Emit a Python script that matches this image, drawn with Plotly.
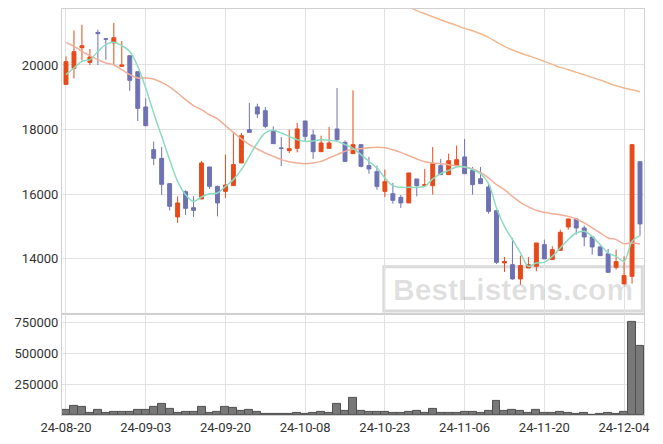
import plotly.graph_objects as go

dates = ["24-08-20","24-08-21","24-08-22","24-08-23","24-08-26","24-08-27","24-08-28","24-08-29","24-08-30",
         "24-09-02","24-09-03","24-09-04","24-09-05","24-09-06","24-09-09","24-09-10","24-09-11","24-09-12",
         "24-09-13","24-09-19","24-09-20","24-09-23","24-09-24","24-09-25","24-09-26","24-09-27","24-09-30",
         "24-10-02","24-10-04","24-10-07","24-10-08","24-10-10","24-10-11","24-10-14","24-10-15","24-10-16",
         "24-10-17","24-10-18","24-10-21","24-10-22","24-10-23","24-10-24","24-10-25","24-10-28","24-10-29",
         "24-10-30","24-10-31","24-11-01","24-11-04","24-11-05","24-11-06","24-11-07","24-11-08","24-11-11",
         "24-11-12","24-11-13","24-11-14","24-11-15","24-11-18","24-11-19","24-11-20","24-11-21","24-11-22",
         "24-11-25","24-11-26","24-11-27","24-11-28","24-11-29","24-12-02","24-12-03","24-12-04","24-12-05",
         "24-12-06"]

open_ = [19400,19895,20535,20080,21008,20810,20680,19957,20288,19793,18701,17380,17111,16329,15299,16081,15586,15855,
         16845,16245,16090,16267,16969,18000,18701,18587,17968,17433,17349,17421,18268,17835,17318,17421,18021,17606,
         17257,17535,16886,16700,16090,16019,15905,15732,16474,16267,16267,16886,16607,16886,17155,16740,16483,16226,
         15494,13876,13823,13381,13721,13771,14442,13979,14266,14989,15237,14958,14680,14371,14163,13741,13226,13462,
         17009]
high = [20266,21070,21246,20495,21092,20820,21300,20742,20288,19800,18967,17628,17464,16329,15936,16122,15936,17031,
        16845,16270,17226,17897,17897,18825,18803,18701,18101,17773,18000,18206,18268,18000,17813,18082,19289,17668,
        19214,17540,17155,16886,16763,16350,15979,16660,16474,16784,17464,17093,17257,17505,17711,16845,16845,16298,
        15494,14061,14649,14102,14061,14494,14597,14391,14906,15240,15240,15030,14690,14411,14308,14287,14080,17535,
        17009]
low = [19380,19586,20142,20000,20000,20164,20000,19950,19196,18268,18100,16907,15979,15503,15113,15361,15299,15855,
       16165,15317,15887,16260,16969,17915,18361,18039,17560,16877,17278,17297,17637,17093,17318,17421,17649,17010,
       17250,16833,16638,16143,15918,15710,15577,15732,15936,16260,15989,16600,16600,16880,16630,15989,16320,15400,
       13845,13598,13360,13205,13715,13616,14000,13979,14260,14906,14751,14390,14132,14100,13580,13669,13220,13236,
       14720]
close = [20102,20411,20597,20247,20968,20800,20844,20000,19524,18658,18123,17111,16307,15627,15732,15565,15503,16969,
         16245,15732,16288,16918,17813,17915,18485,18101,17566,17420,17411,18021,17792,17318,17587,17587,17690,17018,
         17535,16864,16784,16245,16391,15812,15732,16660,16267,16298,16947,16607,17040,17071,16638,16298,16329,15472,
         13894,13916,13381,13793,13823,14494,14000,14287,14823,15237,14958,14680,14371,14102,13585,13917,13484,17535,
         15082]

ma5 = [19700,19907,20111,20164,20420,20628,20700,20597,20420,19957,19289,18515,17792,17071,16400,15989,15781,15917,
       16019,16040,16245,16453,16763,17175,17587,17897,17977,17897,17792,17690,17637,17649,17690,17668,17637,17535,
       17420,17226,17018,16814,16505,16267,16215,16215,16215,16245,16474,16638,16740,16845,16845,16763,16638,16329,
       15577,15008,14597,14185,13771,13876,13894,14080,14340,14597,14803,14855,14700,14442,14185,14080,13926,14545,
       14720]
ma20 = [20700,20577,20420,20288,20164,20062,20009,19855,19700,19598,19598,19567,19462,19320,19134,18927,18741,18618,
        18460,18330,18123,17915,17711,17535,17401,17278,17175,17071,17009,16969,16947,16969,17018,17123,17226,17328,
        17390,17411,17442,17452,17442,17380,17297,17195,17093,17009,16969,16947,16917,16886,16845,16784,16678,16505,
        16298,16143,15936,15750,15608,15503,15441,15396,15370,15317,15237,15113,14958,14803,14649,14597,14473,14494,
        14463]
ma60_dates = dates[43:]
ma60 = [21800,21680,21587,21494,21401,21308,21225,21132,21061,20968,20854,20711,20575,20464,20371,20288,20204,20111,
        20019,19926,19855,19771,19700,19616,19536,19443,19360,19289,19236,19174]

volume = [40500,73000,65000,13500,40500,13500,21600,21600,21600,40500,40500,62000,89000,48600,13500,21600,21600,65000,
          13500,21600,65000,57000,32400,40500,21600,8000,8000,8000,8000,13500,8000,13500,21600,13500,89000,32400,
          138000,32400,21600,21600,21600,13500,13500,21600,32400,13500,48600,13500,13500,13500,21600,21600,13500,32400,
          113500,32400,40500,32400,13500,40500,13500,13500,21600,13500,5400,13500,2000,5400,13500,5400,21600,748700,
          559500]

tick_labels = dates[::10]
price_ticks = [14000, 16000, 18000, 20000]
price_tick_text = ["14000", "16000", "18000", "20000"]
vol_ticks = [250000, 500000, 750000]
vol_tick_text = ["250000", "500000", "750000"]

UP = "#e64a19"
DOWN = "#6e72b2"
GRID = "#e2e2e2"
FRAME = "#d0d0d0"

fig = go.Figure()
fig.add_trace(go.Candlestick(
    x=dates, open=open_, high=high, low=low, close=close,
    increasing=dict(line=dict(color=UP, width=1), fillcolor=UP),
    decreasing=dict(line=dict(color=DOWN, width=1), fillcolor=DOWN),
    xaxis="x", yaxis="y", showlegend=False, hoverinfo="skip"))
fig.add_trace(go.Scatter(x=dates, y=ma20, mode="lines", line=dict(color="#f2ae96", width=1.5, shape="spline"),
                         xaxis="x", yaxis="y", showlegend=False, hoverinfo="skip"))
fig.add_trace(go.Scatter(x=ma60_dates, y=ma60, mode="lines", line=dict(color="#f0b890", width=1.5, shape="spline"),
                         xaxis="x", yaxis="y", showlegend=False, hoverinfo="skip"))
fig.add_trace(go.Scatter(x=dates, y=ma5, mode="lines", line=dict(color="#8cdcc0", width=1.5, shape="spline"),
                         xaxis="x", yaxis="y", showlegend=False, hoverinfo="skip"))
fig.add_trace(go.Bar(x=dates, y=volume, marker=dict(color="#787878", line=dict(color="#505050", width=1)),
                     xaxis="x2", yaxis="y2", showlegend=False, hoverinfo="skip"))

axis_common = dict(type="category", categoryorder="array", categoryarray=dates, range=[-0.5, 72.5],
                   tickmode="array", tickvals=tick_labels, ticktext=tick_labels,
                   showgrid=True, gridcolor=GRID, gridwidth=1,
                   showline=True, linecolor=FRAME, linewidth=1, mirror=True, ticks="", zeroline=False)

fig.update_layout(
    width=663, height=444,
    margin=dict(l=62, r=19, t=9, b=29),
    paper_bgcolor="white", plot_bgcolor="white",
    font=dict(family="Roboto", size=13, color="#333333"),
    bargap=0, showlegend=False, hovermode=False,
    xaxis=dict(**axis_common, anchor="y", showticklabels=False, rangeslider=dict(visible=False)),
    xaxis2=dict(**axis_common, anchor="y2", matches="x", showticklabels=True),
    yaxis=dict(domain=[0.249, 1], range=[12299, 21732], tickmode="array", tickvals=price_ticks,
               ticktext=price_tick_text,
               showgrid=True, gridcolor=GRID, showline=True, linecolor=FRAME, mirror=True,
               ticks="", zeroline=False, anchor="x"),
    yaxis2=dict(domain=[0, 0.249], range=[0, 817000], tickmode="array", tickvals=vol_ticks,
                ticktext=vol_tick_text,
                showgrid=True, gridcolor=GRID, showline=True, linecolor=FRAME, mirror=True,
                ticks="", zeroline=False, anchor="x2"),
)

# watermark
fig.add_shape(type="rect", xref="paper", yref="paper", x0=0.553, x1=0.997, y0=0.256, y1=0.365,
              line=dict(color="#dadada", width=3), fillcolor="rgba(255,255,255,0)", layer="below")
fig.add_annotation(xref="paper", yref="paper", x=0.775, y=0.310, xanchor="center", yanchor="middle",
                   text="<b>BestListens.com</b>",
                   showarrow=False, font=dict(family="Liberation Sans", size=30, color="rgba(0,0,0,0.12)"))

fig.write_html("out.html", config={"displayModeBar": False},
               post_script="document.body.style.margin='0';")
